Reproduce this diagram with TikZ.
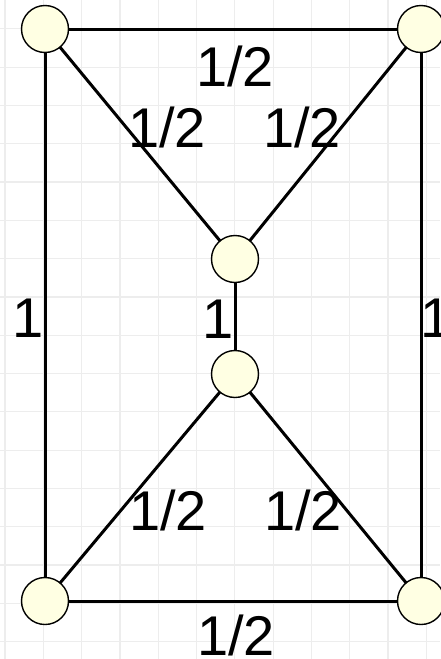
\documentclass[tikz,border=0pt]{standalone}
\usepackage{fontspec}
\setmainfont{Liberation Sans}
\usepackage{tikz}
\usetikzlibrary{positioning}
\definecolor{vtxfill}{HTML}{FFFFE3}
\definecolor{gridgray}{HTML}{EDEDED}
\tikzset{
  net/.style={x=1pt, y={(0pt,-1pt)}, every node/.style={inner sep=0pt}},
  vtx/.style={draw, circle, line width=1.4pt, fill=vtxfill, minimum size=47pt},
  edge/.style={draw, line width=3pt},
  wt/.style={font=\fontsize{56}{60}\selectfont, text height=40pt, text depth=0pt},
  gridln/.style={gridgray, line width=1.2pt}
}

\begin{document}
\begin{tikzpicture}[net]
\useasboundingbox (0,0) rectangle (440,659);
% background grid
\foreach \gx in {0,...,11} \draw[gridln] ({5+38.3*\gx},0) -- ++(0,659);
\foreach \gy in {0,...,16} \draw[gridln] (0,{28.8+38.3*\gy}) -- ++(440,0);
% edges first, vertices on top
\coordinate (ctl) at (45,29);  \coordinate (ctr) at (421,29);
\coordinate (cmu) at (235,259); \coordinate (cml) at (235,374);
\coordinate (cbl) at (45,601); \coordinate (cbr) at (421,601);
\draw[edge] (ctl) -- (ctr) -- (cbr) -- (cbl) -- cycle;
\draw[edge] (ctl) -- (cmu) -- (ctr); \draw[edge] (cmu) -- (cml);
\draw[edge] (cbl) -- (cml) -- (cbr);
\node[vtx] (tl) at (ctl) {}; \node[vtx] (tr) at (ctr) {};
\node[vtx] (mu) at (cmu) {}; \node[vtx] (ml) at (cml) {};
\node[vtx] (bl) at (cbl) {}; \node[vtx] (br) at (cbr) {};
% weights
\node[wt] (wtop) at (235,66) {1/2};
\node[wt] (wul) at (167,127) {1/2}; \node[wt] (wur) at (302,127) {1/2};
\node[wt] (wl) at (28,317) {1}; \node[wt] (wm) at (218,318) {1}; \node[wt] (wr) at (436,317) {1};
\node[wt] (wll) at (168,510) {1/2}; \node[wt] (wlr) at (303,510) {1/2};
\node[wt] (wbot) at (236,635) {1/2};
\end{tikzpicture}
\end{document}
